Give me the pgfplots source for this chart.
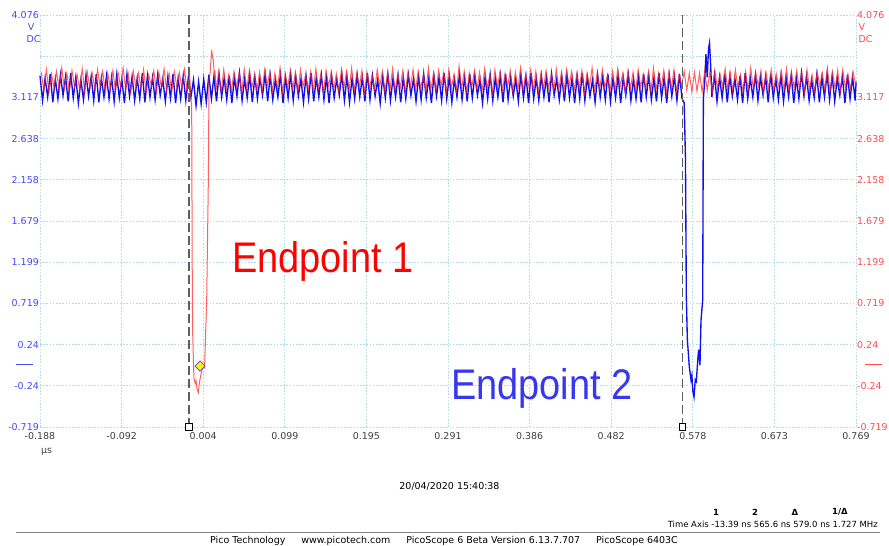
\documentclass[border=0pt]{standalone}
\usepackage{fontspec}
\setmainfont{DejaVu Sans}
\newfontfamily\arialfont{Liberation Sans}
\usepackage{pgfplots}
\pgfplotsset{compat=1.18}
\definecolor{chA}{RGB}{15,15,235}
\definecolor{chB}{RGB}{255,35,35}
\definecolor{gridc}{RGB}{178,220,234}
\definecolor{labA}{RGB}{70,70,255}
\definecolor{labB}{RGB}{255,75,75}
\definecolor{txtA}{RGB}{55,55,240}
\definecolor{tickx}{RGB}{64,64,64}
\definecolor{cursorc}{RGB}{95,95,95}
\begin{document}
\begin{tikzpicture}
\path[use as bounding box] (0bp,0bp) rectangle (889bp,546bp);
\begin{axis}[
  at={(40bp,119bp)}, anchor=south west,
  scale only axis, width=816bp, height=412bp,
  xmin=-0.188, xmax=0.769, ymin=-0.719, ymax=4.076,
  clip=false,
  axis line style={draw=none},
  major tick length=0pt,
  xtick={-0.188,-0.0923,0.0034,0.0991,0.1948,0.2905,0.3862,0.4819,0.5776,0.6733,0.769},
  xticklabels={-0.188,-0.092,0.004,0.099,0.195,0.291,0.386,0.482,0.578,0.673,0.769},
  ytick={-0.719,-0.2395,0.24,0.7195,1.199,1.6785,2.158,2.6375,3.117,3.5965,4.076},
  yticklabels={-0.719,-0.24,0.24,0.719,1.199,1.679,2.158,2.638,3.117,,4.076},
  xticklabel pos=bottom, yticklabel pos=left,
  grid=major,
  major grid style={draw=gridc, line width=0.7bp, dash pattern=on 1.6bp off 1.6bp},
  xticklabel style={font=\fontsize{9.5}{11}\selectfont, text=tickx, anchor=north, yshift=-2bp},
  yticklabel style={font=\fontsize{9.5}{11}\selectfont, text=labA, anchor=east, inner sep=1bp},
]
% Channel A (blue)
\addplot[chA, line width=1.35bp] coordinates {
(-0.188,3.37)(-0.185,3.08)(-0.182,3.34)(-0.179,3.12)(-0.176,3.39)(-0.173,3.06)(-0.170,3.33)(-0.167,3.10)(-0.164,3.38)(-0.161,3.14)
(-0.158,3.36)(-0.155,3.07)(-0.152,3.40)(-0.149,3.11)(-0.146,3.35)(-0.143,3.05)(-0.140,3.32)(-0.137,3.09)(-0.134,3.38)(-0.131,3.13)
(-0.128,3.36)(-0.125,3.08)(-0.122,3.39)(-0.119,3.06)(-0.116,3.34)(-0.113,3.12)(-0.110,3.37)(-0.107,3.10)(-0.104,3.35)(-0.101,3.07)
(-0.098,3.38)(-0.095,3.11)(-0.092,3.33)(-0.089,3.05)(-0.086,3.39)(-0.083,3.13)(-0.080,3.36)(-0.077,3.08)(-0.074,3.34)(-0.071,3.10)
(-0.068,3.40)(-0.065,3.06)(-0.062,3.37)(-0.059,3.12)(-0.056,3.35)(-0.053,3.09)(-0.050,3.38)(-0.047,3.14)(-0.044,3.33)(-0.041,3.07)
(-0.038,3.36)(-0.035,3.11)(-0.032,3.39)(-0.029,3.05)(-0.026,3.34)(-0.023,3.10)(-0.020,3.37)(-0.017,3.08)(-0.014,3.35)(-0.011,3.12)
(-0.008,3.32)(-0.005,3.02)(-0.002,3.30)(0.001,3.04)(0.004,3.33)(0.007,3.06)(0.010,3.38)(0.013,3.10)(0.016,3.36)(0.019,3.07)
(0.022,3.39)(0.025,3.12)(0.028,3.34)(0.031,3.09)(0.034,3.37)(0.037,3.05)(0.040,3.35)(0.043,3.13)(0.046,3.40)(0.049,3.08)
(0.052,3.33)(0.055,3.11)(0.058,3.38)(0.061,3.06)(0.064,3.36)(0.067,3.10)(0.070,3.34)(0.073,3.14)(0.076,3.39)(0.079,3.07)
(0.082,3.37)(0.085,3.09)(0.088,3.32)(0.091,3.12)(0.094,3.38)(0.097,3.05)(0.100,3.35)(0.103,3.11)(0.106,3.39)(0.109,3.08)
(0.112,3.36)(0.115,3.13)(0.118,3.33)(0.121,3.06)(0.124,3.37)(0.127,3.10)(0.130,3.40)(0.133,3.07)(0.136,3.34)(0.139,3.12)
(0.142,3.38)(0.145,3.09)(0.148,3.35)(0.151,3.05)(0.154,3.37)(0.157,3.11)(0.160,3.33)(0.163,3.14)(0.166,3.39)(0.169,3.08)
(0.172,3.36)(0.175,3.06)(0.178,3.34)(0.181,3.10)(0.184,3.38)(0.187,3.12)(0.190,3.35)(0.193,3.07)(0.196,3.40)(0.199,3.09)
(0.202,3.37)(0.205,3.13)(0.208,3.32)(0.211,3.05)(0.214,3.36)(0.217,3.11)(0.220,3.39)(0.223,3.08)(0.226,3.34)(0.229,3.12)
(0.232,3.37)(0.235,3.06)(0.238,3.35)(0.241,3.10)(0.244,3.38)(0.247,3.14)(0.250,3.33)(0.253,3.07)(0.256,3.36)(0.259,3.09)
(0.262,3.39)(0.265,3.11)(0.268,3.34)(0.271,3.05)(0.274,3.37)(0.277,3.13)(0.280,3.35)(0.283,3.08)(0.286,3.40)(0.289,3.10)
(0.292,3.36)(0.295,3.06)(0.298,3.33)(0.301,3.12)(0.304,3.38)(0.307,3.09)(0.310,3.35)(0.313,3.07)(0.316,3.39)(0.319,3.11)
(0.322,3.37)(0.325,3.14)(0.328,3.32)(0.331,3.05)(0.334,3.36)(0.337,3.10)(0.340,3.38)(0.343,3.08)(0.346,3.34)(0.349,3.12)
(0.352,3.37)(0.355,3.06)(0.358,3.39)(0.361,3.09)(0.364,3.35)(0.367,3.13)(0.370,3.33)(0.373,3.07)(0.376,3.38)(0.379,3.11)
(0.382,3.36)(0.385,3.05)(0.388,3.40)(0.391,3.10)(0.394,3.34)(0.397,3.08)(0.400,3.37)(0.403,3.12)(0.406,3.35)(0.409,3.06)
(0.412,3.39)(0.415,3.14)(0.418,3.33)(0.421,3.09)(0.424,3.36)(0.427,3.07)(0.430,3.38)(0.433,3.11)(0.436,3.34)(0.439,3.05)
(0.442,3.37)(0.445,3.10)(0.448,3.40)(0.451,3.08)(0.454,3.35)(0.457,3.13)(0.460,3.32)(0.463,3.06)(0.466,3.38)(0.469,3.12)
(0.472,3.36)(0.475,3.09)(0.478,3.39)(0.481,3.07)(0.484,3.34)(0.487,3.11)(0.490,3.37)(0.493,3.05)(0.496,3.35)(0.499,3.14)
(0.502,3.38)(0.505,3.08)(0.508,3.33)(0.511,3.10)(0.514,3.36)(0.517,3.06)(0.520,3.39)(0.523,3.12)(0.526,3.37)(0.529,3.09)
(0.532,3.34)(0.535,3.07)(0.538,3.40)(0.541,3.11)(0.544,3.35)(0.547,3.05)(0.550,3.38)(0.553,3.13)(0.556,3.36)(0.559,3.08)
(0.562,3.39)(0.565,3.10)
(0.5675,3.05)(0.5690,2.40)(0.5700,0.80)(0.5712,0.30)(0.5735,-0.02)(0.5743,-0.08)(0.5755,-0.17)(0.5765,-0.12)(0.5775,-0.29)(0.5790,-0.37)
(0.5805,-0.17)(0.5817,-0.19)(0.5837,0.10)(0.5845,0.18)(0.5860,0.00)(0.5872,0.52)(0.5892,0.76)(0.5900,3.10)(0.5915,3.30)(0.5930,3.62)
(0.5945,3.35)(0.5960,3.68)(0.5972,3.75)(0.5985,3.50)(0.6000,3.12)
(0.603,3.38)(0.606,3.07)(0.609,3.35)(0.612,3.11)(0.615,3.39)(0.618,3.06)(0.621,3.36)(0.624,3.13)(0.627,3.33)(0.630,3.09)
(0.633,3.37)(0.636,3.05)(0.639,3.40)(0.642,3.10)(0.645,3.34)(0.648,3.12)(0.651,3.38)(0.654,3.08)(0.657,3.35)(0.660,3.14)
(0.663,3.36)(0.666,3.06)(0.669,3.39)(0.672,3.11)(0.675,3.33)(0.678,3.09)(0.681,3.37)(0.684,3.07)(0.687,3.35)(0.690,3.12)
(0.693,3.38)(0.696,3.05)(0.699,3.34)(0.702,3.10)(0.705,3.40)(0.708,3.13)(0.711,3.36)(0.714,3.08)(0.717,3.32)(0.720,3.11)
(0.723,3.38)(0.726,3.06)(0.729,3.35)(0.732,3.12)(0.735,3.39)(0.738,3.09)(0.741,3.37)(0.744,3.07)(0.747,3.34)(0.750,3.14)
(0.753,3.36)(0.756,3.05)(0.759,3.38)(0.762,3.10)(0.765,3.35)(0.768,3.08)(0.769,3.30)
};
% Channel B (red)
\addplot[chB, line width=1bp, opacity=0.72] coordinates {
(-0.1865,3.41)(-0.1835,3.20)(-0.1805,3.44)(-0.1775,3.17)(-0.1745,3.39)(-0.1715,3.23)(-0.1685,3.42)(-0.1655,3.19)(-0.1625,3.46)(-0.1595,3.22)
(-0.1565,3.40)(-0.1535,3.18)(-0.1505,3.43)(-0.1475,3.24)(-0.1445,3.38)(-0.1415,3.21)(-0.1385,3.45)(-0.1355,3.17)(-0.1325,3.41)(-0.1295,3.23)
(-0.1265,3.39)(-0.1235,3.20)(-0.1205,3.44)(-0.1175,3.25)(-0.1145,3.42)(-0.1115,3.18)(-0.1085,3.40)(-0.1055,3.22)(-0.1025,3.43)(-0.0995,3.19)
(-0.0965,3.41)(-0.0935,3.24)(-0.0905,3.46)(-0.0875,3.20)(-0.0845,3.39)(-0.0815,3.17)(-0.0785,3.42)(-0.0755,3.23)(-0.0725,3.40)(-0.0695,3.21)
(-0.0665,3.44)(-0.0635,3.18)(-0.0605,3.38)(-0.0575,3.25)(-0.0545,3.43)(-0.0515,3.19)(-0.0485,3.41)(-0.0455,3.22)(-0.0425,3.45)(-0.0395,3.20)
(-0.0365,3.39)(-0.0335,3.17)(-0.0305,3.42)(-0.0275,3.24)(-0.0245,3.40)(-0.0215,3.21)(-0.0185,3.44)(-0.0155,3.19)(-0.0125,3.38)
(-0.0110,3.10)(-0.0101,3.00)(-0.0095,1.20)(-0.0090,0.40)(-0.0075,-0.15)(-0.0060,-0.21)(-0.0050,-0.18)(-0.0040,-0.27)(-0.0023,-0.32)(-0.0010,-0.20)
(0.0005,-0.12)(0.0020,-0.06)(0.0035,-0.01)(0.0050,-0.03)(0.0075,0.76)(0.0095,2.20)(0.0102,3.32)(0.0115,3.40)(0.0133,3.67)(0.0145,3.58)
(0.0152,3.55)(0.0165,3.38)(0.0172,3.43)
(0.0185,3.20)(0.0215,3.41)(0.0245,3.18)(0.0275,3.44)(0.0305,3.22)(0.0335,3.39)(0.0365,3.19)(0.0395,3.42)(0.0425,3.24)(0.0455,3.40)
(0.0485,3.17)(0.0515,3.45)(0.0545,3.21)(0.0575,3.43)(0.0605,3.23)(0.0635,3.38)(0.0665,3.20)(0.0695,3.41)(0.0725,3.18)(0.0755,3.44)
(0.0785,3.25)(0.0815,3.42)(0.0845,3.19)(0.0875,3.40)(0.0905,3.22)(0.0935,3.46)(0.0965,3.17)(0.0995,3.39)(0.1025,3.23)(0.1055,3.43)
(0.1085,3.21)(0.1115,3.41)(0.1145,3.18)(0.1175,3.44)(0.1205,3.24)(0.1235,3.38)(0.1265,3.20)(0.1295,3.42)(0.1325,3.19)(0.1355,3.45)
(0.1385,3.22)(0.1415,3.40)(0.1445,3.17)(0.1475,3.43)(0.1505,3.25)(0.1535,3.41)(0.1565,3.21)(0.1595,3.39)(0.1625,3.18)(0.1655,3.44)
(0.1685,3.23)(0.1715,3.42)(0.1745,3.20)(0.1775,3.46)(0.1805,3.19)(0.1835,3.40)(0.1865,3.24)(0.1895,3.43)(0.1925,3.17)(0.1955,3.41)
(0.1985,3.22)(0.2015,3.38)(0.2045,3.20)(0.2075,3.44)(0.2105,3.25)(0.2135,3.42)(0.2165,3.18)(0.2195,3.40)(0.2225,3.21)(0.2255,3.45)
(0.2285,3.19)(0.2315,3.39)(0.2345,3.23)(0.2375,3.43)(0.2405,3.17)(0.2435,3.41)(0.2465,3.24)(0.2495,3.44)(0.2525,3.20)(0.2555,3.42)
(0.2585,3.22)(0.2615,3.38)(0.2645,3.18)(0.2675,3.46)(0.2705,3.21)(0.2735,3.40)(0.2765,3.19)(0.2795,3.43)(0.2825,3.25)(0.2855,3.41)
(0.2885,3.17)(0.2915,3.44)(0.2945,3.23)(0.2975,3.39)(0.3005,3.20)(0.3035,3.48)(0.3065,3.22)(0.3095,3.42)(0.3125,3.18)(0.3155,3.40)
(0.3185,3.24)(0.3215,3.43)(0.3245,3.21)(0.3275,3.41)(0.3305,3.19)(0.3335,3.45)(0.3365,3.22)(0.3395,3.38)(0.3425,3.17)(0.3455,3.44)
(0.3485,3.23)(0.3515,3.42)(0.3545,3.20)(0.3575,3.40)(0.3605,3.25)(0.3635,3.43)(0.3665,3.18)(0.3695,3.41)(0.3725,3.21)(0.3755,3.46)
(0.3785,3.19)(0.3815,3.39)(0.3845,3.24)(0.3875,3.44)(0.3905,3.20)(0.3935,3.42)(0.3965,3.17)(0.3995,3.40)(0.4025,3.22)(0.4055,3.43)
(0.4085,3.23)(0.4115,3.38)(0.4145,3.19)(0.4175,3.45)(0.4205,3.21)(0.4235,3.41)(0.4265,3.18)(0.4295,3.44)(0.4325,3.25)(0.4355,3.42)
(0.4385,3.20)(0.4415,3.39)(0.4445,3.22)(0.4475,3.43)(0.4505,3.17)(0.4535,3.40)(0.4565,3.24)(0.4595,3.46)(0.4625,3.19)(0.4655,3.41)
(0.4685,3.21)(0.4715,3.44)(0.4745,3.23)(0.4775,3.38)(0.4805,3.18)(0.4835,3.42)(0.4865,3.20)(0.4895,3.45)(0.4925,3.25)(0.4955,3.40)
(0.4985,3.17)(0.5015,3.43)(0.5045,3.22)(0.5075,3.41)(0.5105,3.19)(0.5135,3.44)(0.5165,3.24)(0.5195,3.39)(0.5225,3.21)(0.5255,3.42)
(0.5285,3.18)(0.5315,3.46)(0.5345,3.20)(0.5375,3.40)(0.5405,3.23)(0.5435,3.43)(0.5465,3.17)(0.5495,3.41)(0.5525,3.22)(0.5555,3.44)
(0.5585,3.19)(0.5615,3.38)(0.5645,3.25)(0.5675,3.42)(0.5705,3.20)(0.5735,3.40)(0.5765,3.18)(0.5795,3.41)(0.5825,3.19)(0.5855,3.40)
(0.5885,3.18)(0.5915,3.42)(0.5945,3.20)(0.5975,3.41)(0.6005,3.17)(0.6035,3.43)(0.6065,3.22)(0.6095,3.39)(0.6125,3.24)(0.6155,3.45)
(0.6185,3.21)(0.6215,3.41)(0.6245,3.19)(0.6275,3.44)(0.6305,3.23)(0.6335,3.38)(0.6365,3.18)(0.6395,3.42)(0.6425,3.20)(0.6455,3.46)
(0.6485,3.22)(0.6515,3.40)(0.6545,3.25)(0.6575,3.43)(0.6605,3.17)(0.6635,3.41)(0.6665,3.21)(0.6695,3.44)(0.6725,3.19)(0.6755,3.39)
(0.6785,3.24)(0.6815,3.42)(0.6845,3.20)(0.6875,3.45)(0.6905,3.18)(0.6935,3.40)(0.6965,3.23)(0.6995,3.43)(0.7025,3.22)(0.7055,3.41)
(0.7085,3.17)(0.7115,3.44)(0.7145,3.21)(0.7175,3.38)(0.7205,3.19)(0.7235,3.42)(0.7265,3.25)(0.7295,3.40)(0.7325,3.20)(0.7355,3.46)
(0.7385,3.18)(0.7415,3.41)(0.7445,3.22)(0.7475,3.43)(0.7505,3.19)(0.7535,3.44)(0.7565,3.23)(0.7595,3.39)(0.7625,3.21)(0.7655,3.42)
(0.769,3.24)
};
% cursors
\addplot[cursorc, line width=1.3bp, dash pattern=on 9bp off 4bp] coordinates {(-0.01339,-0.719)(-0.01339,4.076)};
\addplot[cursorc, line width=1.3bp, dash pattern=on 9bp off 4bp] coordinates {(0.5656,-0.719)(0.5656,4.076)};
\addplot[only marks, mark=square*, mark size=3.3bp, mark options={fill=white, draw=black, line width=0.8bp}] coordinates {(-0.01339,-0.719)(0.5656,-0.719)};
% ruler marker
\addplot[only marks, mark=square*, mark size=3.6bp, mark options={fill=yellow, draw=labA, line width=0.7bp, rotate=45}] coordinates {(-0.0003,-0.01)};
\end{axis}
\begin{axis}[
  at={(40bp,119bp)}, anchor=south west,
  scale only axis, width=816bp, height=412bp,
  xmin=-0.188, xmax=0.769, ymin=-0.719, ymax=4.076,
  axis line style={draw=none},
  major tick length=0pt,
  xtick=\empty,
  ytick={-0.719,-0.2395,0.24,0.7195,1.199,1.6785,2.158,2.6375,3.117,3.5965,4.076},
  yticklabels={-0.719,-0.24,0.24,0.719,1.199,1.679,2.158,2.638,3.117,,4.076},
  yticklabel pos=right,
  yticklabel style={font=\fontsize{9.5}{11}\selectfont, text=labB, anchor=west, inner sep=1bp},
]
\end{axis}
% unit labels
\begin{scope}[font=\fontsize{9.5}{11}\selectfont]
\node[text=labA] at (31bp,519bp) {V};
\node[text=labA] at (33.5bp,506.5bp) {DC};
\node[text=labB, anchor=west, inner sep=0pt] at (858.5bp,519bp) {V};
\node[text=labB, anchor=west, inner sep=0pt] at (858.5bp,506.5bp) {DC};
\node[text=tickx] at (46.5bp,94bp) {µs};
\node[text=black] at (449.5bp,60bp) {20/04/2020 15:40:38};
\end{scope}
\draw[labA, line width=1bp] (16bp,181bp) -- (33bp,181bp);
\draw[labB, line width=1bp] (865bp,181bp) -- (882bp,181bp);
% annotations
\node[font=\arialfont\fontsize{43}{48}\selectfont, text=red, anchor=base west, inner sep=0pt, xscale=0.885] at (232bp,273bp) {Endpoint 1};
\node[font=\arialfont\fontsize{43}{48}\selectfont, text=txtA, anchor=base west, inner sep=0pt, xscale=0.885] at (451bp,146bp) {Endpoint 2};
% cursor table
\begin{scope}[font=\fontsize{8.5}{10}\selectfont]
\node[font=\fontsize{8.5}{10}\selectfont\bfseries] at (716bp,34bp) {1};
\node[font=\fontsize{8.5}{10}\selectfont\bfseries] at (755bp,34bp) {2};
\node[font=\fontsize{8.5}{10}\selectfont\bfseries] at (795bp,34bp) {Δ};
\node[font=\fontsize{8.5}{10}\selectfont\bfseries] at (840bp,34bp) {1/Δ};
\node[anchor=east, inner sep=0pt] at (878bp,22bp) {Time Axis -13.39 ns 565.6 ns 579.0 ns 1.727 MHz};
\end{scope}
\draw[gray, line width=1bp] (16bp,13bp) -- (880bp,13bp);
\node[anchor=base west, inner sep=0pt, font=\fontsize{9.5}{11}\selectfont] at (210bp,2.5bp) {Pico Technology\hspace{16bp}www.picotech.com\hspace{16bp}PicoScope 6 Beta Version 6.13.7.707\hspace{16bp}PicoScope 6403C};
\end{tikzpicture}
\end{document}
